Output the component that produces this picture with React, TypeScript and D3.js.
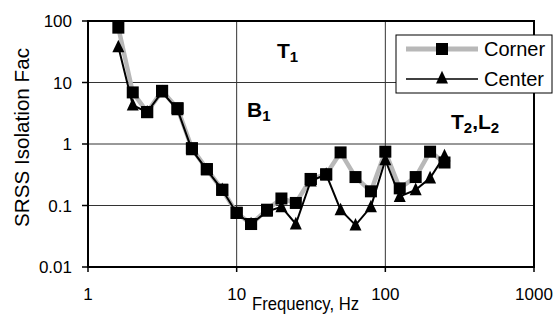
import * as d3 from "d3";

// 1/3-octave centre frequencies, Hz
const freqs = [
  1.6, 2, 2.5, 3.15, 4, 5, 6.3, 8, 10, 12.5, 16, 20, 25, 31.5, 40, 50, 63, 80,
  100, 125, 160, 200, 250,
];

// SRSS isolation factor
const corner = [
  78, 6.9, 3.3, 7.3, 3.8, 0.85, 0.39, 0.18, 0.076, 0.05, 0.085, 0.13, 0.11,
  0.27, 0.32, 0.73, 0.29, 0.17, 0.75, 0.19, 0.29, 0.75, 0.5,
];
const center = [
  38, 4.3, 3.3, 7.0, 3.6, 0.8, 0.38, 0.18, 0.075, 0.05, 0.08, 0.095, 0.05,
  0.25, 0.32, 0.085, 0.048, 0.095, 0.55, 0.14, 0.18, 0.28, 0.64,
];

const xTicks = [1, 10, 100, 1000];
const yTicks = [0.01, 0.1, 1, 10, 100];
const yTickLabels = ["0.01", "0.1", "1", "10", "100"];

const FONT = "'Liberation Sans', Arial, sans-serif";
const W = 558;
const H = 322;
const plot = { left: 88, right: 534, top: 21, bottom: 267 };

type Pt = { f: number; v: number };

const Square = ({ x, y, s = 12 }: { x: number; y: number; s?: number }) => (
  <rect x={x - s / 2} y={y - s / 2} width={s} height={s} fill="#000" />
);

const Triangle = ({ x, y, s = 12 }: { x: number; y: number; s?: number }) => (
  <path
    d={`M${x},${y - s * 0.6} L${x + s / 2},${y + s * 0.45} L${x - s / 2},${y + s * 0.45} Z`}
    fill="#000"
  />
);

export default function App() {
  const xScale = d3
    .scaleLog()
    .domain([1, 1000])
    .range([plot.left, plot.right]);
  const yScale = d3
    .scaleLog()
    .domain([0.01, 100])
    .range([plot.bottom, plot.top]);

  const cornerPts: Pt[] = freqs.map((f, i) => ({ f, v: corner[i] }));
  const centerPts: Pt[] = freqs.map((f, i) => ({ f, v: center[i] }));

  const line = d3
    .line<Pt>()
    .x((d) => xScale(d.f))
    .y((d) => yScale(d.v));

  const grid = "#333";

  return (
    <svg
      width={W}
      height={H}
      style={{ position: "absolute", left: 0, top: 0, background: "#fff" }}
      fontFamily={FONT}
    >
      {/* gridlines */}
      {yTicks.slice(1, -1).map((t) => (
        <line
          key={"gy" + t}
          x1={plot.left}
          x2={plot.right}
          y1={yScale(t)}
          y2={yScale(t)}
          stroke={grid}
          strokeWidth={1}
        />
      ))}
      {xTicks.slice(1, -1).map((t) => (
        <line
          key={"gx" + t}
          x1={xScale(t)}
          x2={xScale(t)}
          y1={plot.top}
          y2={plot.bottom}
          stroke={grid}
          strokeWidth={1}
        />
      ))}

      {/* frame */}
      <rect
        x={plot.left}
        y={plot.top}
        width={plot.right - plot.left}
        height={plot.bottom - plot.top}
        fill="none"
        stroke="#000"
        strokeWidth={2}
      />

      {/* ticks */}
      {yTicks.map((t, i) => (
        <g key={"ty" + t}>
          <line
            x1={plot.left - 6}
            x2={plot.left}
            y1={yScale(t)}
            y2={yScale(t)}
            stroke="#000"
            strokeWidth={1.5}
          />
          <text
            x={plot.left - 16}
            y={yScale(t) + 6}
            textAnchor="end"
            fontSize={17}
          >
            {yTickLabels[i]}
          </text>
        </g>
      ))}
      {xTicks.map((t) => (
        <g key={"tx" + t}>
          <line
            x1={xScale(t)}
            x2={xScale(t)}
            y1={plot.bottom}
            y2={plot.bottom + 5}
            stroke="#000"
            strokeWidth={1.5}
          />
          <text x={xScale(t)} y={300} textAnchor="middle" fontSize={17}>
            {t}
          </text>
        </g>
      ))}

      {/* axis titles */}
      <text
        x={252}
        y={310}
        fontSize={18.5}
        textLength={107}
        lengthAdjust="spacingAndGlyphs"
      >
        Frequency, Hz
      </text>
      <text
        transform="translate(29,227) rotate(-90)"
        fontSize={20}
        textLength={179}
        lengthAdjust="spacingAndGlyphs"
      >
        SRSS Isolation Fac
      </text>

      {/* series */}
      <path
        d={line(cornerPts) ?? ""}
        fill="none"
        stroke="#b8b8b8"
        strokeWidth={4.5}
      />
      {cornerPts.map((d) => (
        <Square key={"s" + d.f} x={xScale(d.f)} y={yScale(d.v)} />
      ))}
      <path
        d={line(centerPts) ?? ""}
        fill="none"
        stroke="#000"
        strokeWidth={2}
      />
      {centerPts.map((d) => (
        <Triangle key={"t" + d.f} x={xScale(d.f)} y={yScale(d.v)} />
      ))}
      {/* corner squares sit on top where values coincide */}
      {cornerPts
        .filter((d, i) => Math.abs(d.v - center[i]) / d.v < 0.12)
        .map((d) => (
          <Square key={"s2" + d.f} x={xScale(d.f)} y={yScale(d.v)} />
        ))}

      {/* annotations */}
      <g fontWeight="bold" fontSize={21}>
        <text x={277} y={58}>
          T<tspan fontSize={15} dy={4}>1</tspan>
        </text>
        <text x={247} y={117}>
          B<tspan fontSize={15} dy={4}>1</tspan>
        </text>
        <text x={451} y={129}>
          T<tspan fontSize={15} dy={4}>2</tspan>
          <tspan dy={-4}>,L</tspan>
          <tspan fontSize={15} dy={4}>2</tspan>
        </text>
      </g>

      {/* legend */}
      <rect
        x={396}
        y={35}
        width={156}
        height={58}
        fill="#fff"
        stroke="#000"
        strokeWidth={1}
      />
      <line x1={406} x2={478} y1={49} y2={49} stroke="#b8b8b8" strokeWidth={5} />
      <Square x={442} y={49} s={12} />
      <text x={484} y={56} fontSize={20}>
        Corner
      </text>
      <line x1={406} x2={478} y1={79} y2={79} stroke="#000" strokeWidth={1.5} />
      <Triangle x={442} y={78} s={12} />
      <text x={484} y={86} fontSize={20}>
        Center
      </text>
    </svg>
  );
}
